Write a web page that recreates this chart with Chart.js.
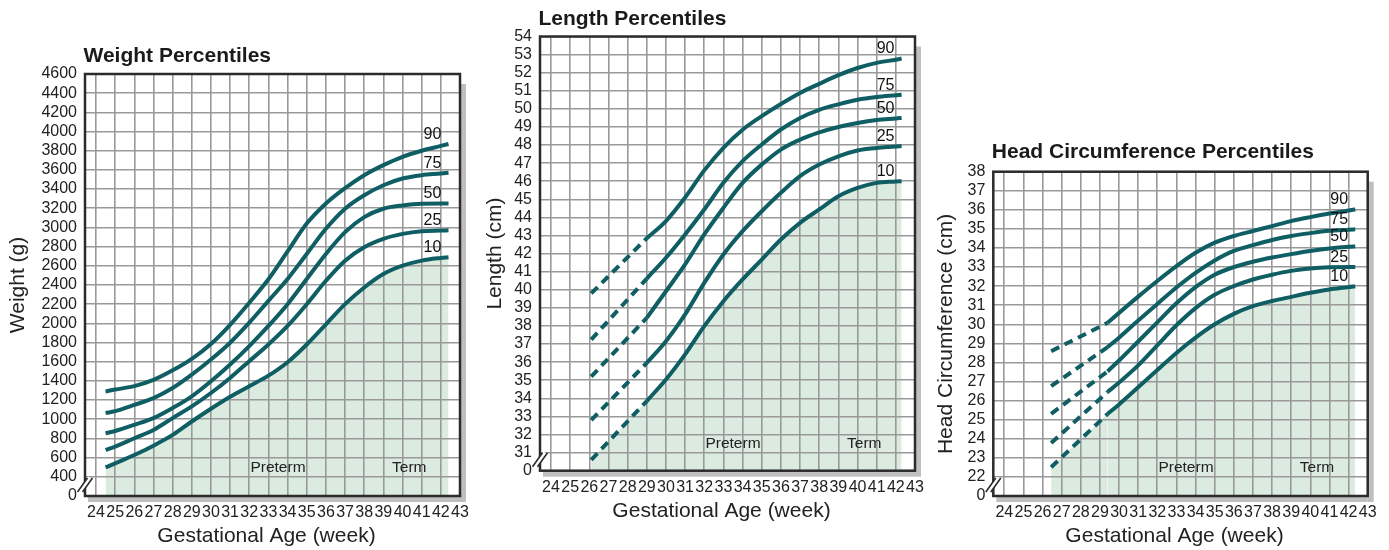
<!DOCTYPE html>
<html>
<head>
<meta charset="utf-8">
<script src="https://cdn.jsdelivr.net/npm/chart.js@4.4.1/dist/chart.umd.min.js"></script>
<style>
  html, body { margin: 0; padding: 0; background: #fff; }
  #wrap { position: relative; width: 1389px; height: 550px; overflow: hidden; }
  canvas { position: absolute; top: 0; }
</style>
</head>
<body>
<div id="wrap">
  <canvas id="weightChart" width="485" height="550" style="left:0"></canvas>
  <canvas id="lengthChart" width="475" height="550" style="left:470px"></canvas>
  <canvas id="headChart" width="459" height="550" style="left:930px"></canvas>
</div>
<script>
// x axis (gestational age, weeks)
const weekTicks = [24, 25, 26, 27, 28, 29, 30, 31, 32, 33, 34, 35, 36, 37, 38, 39, 40, 41, 42, 43];
const percentiles = ['90', '75', '50', '25', '10'];
const zoneLabels = ['Preterm', 'Term'];
const zoneWeeks = [33.5, 40.35];

// Weight (g) - bottom tick "0" marks the axis break
const weightTicks = [0, 400, 600, 800, 1000, 1200, 1400, 1600, 1800, 2000, 2200, 2400, 2600, 2800, 3000, 3200, 3400, 3600, 3800, 4000, 4200, 4400, 4600];
const weightWeeks = [24.5, 25, 26, 27, 28, 29, 30, 31, 32, 33, 34, 35, 36, 37, 38, 39, 40, 41, 42, 42.4];
const weight90 = [1290, 1310, 1345, 1410, 1510, 1630, 1785, 1985, 2215, 2460, 2750, 3040, 3250, 3410, 3545, 3650, 3737, 3800, 3850, 3870];
const weight75 = [1064, 1085, 1150, 1221, 1326, 1466, 1623, 1798, 2007, 2235, 2462, 2724, 2986, 3195, 3335, 3440, 3510, 3545, 3562, 3570];
const weight50 = [854, 878, 942, 1012, 1117, 1239, 1396, 1571, 1763, 1973, 2200, 2462, 2724, 2951, 3108, 3195, 3230, 3248, 3250, 3250];
const weight25 = [680, 715, 802, 889, 1012, 1134, 1274, 1431, 1606, 1780, 1973, 2200, 2444, 2654, 2794, 2881, 2933, 2961, 2968, 2970];
const weight10 = [498, 540, 627, 725, 837, 977, 1110, 1235, 1345, 1455, 1595, 1780, 1990, 2200, 2374, 2514, 2601, 2654, 2682, 2690];

// Length (cm) - dashed up to week 29
const lengthTicks = [0, 31, 32, 33, 34, 35, 36, 37, 38, 39, 40, 41, 42, 43, 44, 45, 46, 47, 48, 49, 50, 51, 52, 53, 54];
const lengthWeeks = [26.1, 29, 30, 31, 32, 33, 34, 35, 36, 37, 38, 39, 40, 41, 42, 42.3];
const length90 = [39.8, 42.85, 43.8, 45.1, 46.6, 47.85, 48.85, 49.6, 50.27, 50.88, 51.38, 51.86, 52.26, 52.54, 52.72, 52.78];
const length75 = [37.25, 40.62, 41.77, 43.06, 44.44, 45.91, 47.11, 48.03, 48.86, 49.5, 49.95, 50.25, 50.5, 50.65, 50.75, 50.78];
const length50 = [35.2, 38.45, 39.92, 41.4, 43.06, 44.53, 45.91, 46.92, 47.75, 48.3, 48.7, 49.0, 49.22, 49.38, 49.47, 49.5];
const length25 = [32.8, 35.96, 37.16, 38.64, 40.38, 41.95, 43.24, 44.34, 45.36, 46.28, 46.92, 47.38, 47.7, 47.84, 47.92, 47.95];
const length10 = [30.6, 33.85, 35.04, 36.43, 37.99, 39.37, 40.57, 41.67, 42.78, 43.7, 44.44, 45.17, 45.63, 45.91, 45.98, 46.0];

// Head circumference (cm) - dashed up to week 29.4
const headTicks = [0, 22, 23, 24, 25, 26, 27, 28, 29, 30, 31, 32, 33, 34, 35, 36, 37, 38];
const headWeeks = [26.45, 29.4, 30, 31, 32, 33, 34, 35, 36, 37, 38, 39, 40, 41, 42, 42.35];
const head90 = [28.59, 30.08, 30.6, 31.45, 32.27, 33.05, 33.75, 34.28, 34.63, 34.89, 35.15, 35.41, 35.62, 35.81, 35.97, 36.02];
const head75 = [26.76, 28.8, 29.3, 30.2, 31.07, 31.93, 32.7, 33.35, 33.85, 34.15, 34.42, 34.63, 34.78, 34.9, 34.96, 34.98];
const head50 = [25.31, 27.53, 28.1, 29.1, 30.1, 31.1, 31.95, 32.6, 33.0, 33.28, 33.5, 33.68, 33.84, 33.97, 34.06, 34.08];
const head25 = [23.78, 26.45, 26.95, 27.85, 28.9, 29.95, 30.85, 31.55, 32.0, 32.35, 32.6, 32.8, 32.93, 32.99, 33.0, 33.0];
const head10 = [22.51, 25.3, 25.8, 26.7, 27.6, 28.5, 29.3, 30.0, 30.55, 30.95, 31.22, 31.44, 31.65, 31.83, 31.95, 32.0];

const LINE = '#0f5e64';
const FILL = '#dcebdf';
const GRID = '#999';
const TEXT = '#222';
const FONT = '"Liberation Sans", Arial, Helvetica, sans-serif';
const X_TITLE = 'Gestational Age (week)';

Chart.defaults.font.family = FONT;
Chart.defaults.color = TEXT;

// frame, shadow, axis break, titles and labels
const decor = {
    id: 'decor',
    beforeDraw(chart) {
        const { ctx, chartArea: a } = chart;
        ctx.save();
        ctx.fillStyle = '#bfbfbf';
        ctx.fillRect(a.right, a.top + 10, 6, a.bottom - a.top - 4);
        ctx.fillRect(a.left + 3, a.bottom, a.right - a.left - 3, 6);
        ctx.restore();
    },
    afterDatasetsDraw(chart, args, o) {
        const { ctx, chartArea: a, scales } = chart;
        ctx.save();
        // frame
        ctx.strokeStyle = '#2b2b2b';
        ctx.lineWidth = 2.5;
        ctx.strokeRect(a.left, a.top, a.right - a.left, a.bottom - a.top);

        // axis break "//"
        const cy = a.bottom - 11;
        ctx.strokeStyle = '#fff';
        ctx.lineWidth = 4;
        ctx.beginPath();
        ctx.moveTo(a.left - 5, cy + 7);
        ctx.lineTo(a.left + 5, cy - 7);
        ctx.stroke();
        ctx.strokeStyle = '#2b2b2b';
        ctx.lineWidth = 1.6;
        [-2.5, 2.5].forEach(d => {
            ctx.beginPath();
            ctx.moveTo(a.left - 5 + d, cy + 7);
            ctx.lineTo(a.left + 5 + d, cy - 7);
            ctx.stroke();
        });

        // percentile labels at the end of each curve
        ctx.fillStyle = '#111';
        ctx.font = '16px ' + FONT;
        ctx.textAlign = 'center';
        ctx.textBaseline = 'middle';
        chart.data.datasets.forEach((ds, i) => {
            if (!ds.pLabel) return;
            const pts = chart.getDatasetMeta(i).data;
            const last = pts[pts.length - 1];
            ctx.fillText(ds.pLabel, last.x - 16, last.y - o.labelGap);
        });

        // preterm / term
        ctx.font = '15.5px ' + FONT;
        ctx.fillStyle = TEXT;
        const zy = scales.y.getPixelForValue(o.zoneY);
        zoneLabels.forEach((t, i) => {
            ctx.fillText(t, scales.x.getPixelForValue(zoneWeeks[i]), zy);
        });

        // x axis title (sits a little left of the plot centre)
        ctx.font = '21px ' + FONT;
        ctx.fillText(X_TITLE, (a.left + a.right) / 2 - 6, a.bottom + 40.5);

        // panel title
        ctx.font = 'bold 21px ' + FONT;
        ctx.fillStyle = '#1a1a1a';
        ctx.textAlign = 'left';
        ctx.textBaseline = 'alphabetic';
        ctx.fillText(o.title, a.left - 1.5, a.top - o.titleGap);
        ctx.restore();
    }
};

function makeChart(canvasId, p) {
    const yPositions = p.yTicks.map((_, k) => p.yMin + k * p.yStep);
    const datasets = [];
    p.series.forEach((values, i) => {
        const pts = p.weeks.map((w, j) => ({ x: w, y: values[j] }));
        const base = {
            borderColor: LINE,
            backgroundColor: FILL,
            borderWidth: 4,
            pointRadius: 0,
            fill: i === p.series.length - 1 ? 'start' : false
        };
        if (p.dashUntil) {
            datasets.push(Object.assign({}, base, {
                data: pts.filter(pt => pt.x <= p.dashUntil),
                borderDash: [9, 6],
                tension: 0
            }));
        }
        datasets.push(Object.assign({}, base, {
            data: p.dashUntil ? pts.filter(pt => pt.x >= p.dashUntil) : pts,
            cubicInterpolationMode: 'monotone',
            pLabel: percentiles[i]
        }));
    });

    return new Chart(document.getElementById(canvasId), {
        type: 'line',
        data: { datasets: datasets },
        plugins: [decor],
        options: {
            responsive: false,
            animation: false,
            devicePixelRatio: 1,
            layout: { padding: p.padding },
            plugins: {
                legend: { display: false },
                tooltip: { enabled: false },
                filler: { drawTime: 'beforeDraw' },
                decor: { title: p.title, titleGap: p.titleGap, labelGap: 9.5, zoneY: p.yMin + 1.5 * p.yStep }
            },
            scales: {
                x: {
                    type: 'linear',
                    min: 24 - 11 / 19.17,
                    max: 43,
                    afterBuildTicks: s => { s.ticks = weekTicks.map(v => ({ value: v })); },
                    afterFit: s => { s.height = 54; },
                    ticks: {
                        autoSkip: false,
                        maxRotation: 0,
                        padding: 7,
                        font: { size: 16 },
                        callback: v => String(v)
                    },
                    grid: { color: GRID, lineWidth: 1.6, drawTicks: false },
                    border: { display: false }
                },
                y: {
                    type: 'linear',
                    min: p.yMin,
                    max: p.yMin + (p.yTicks.length - 1) * p.yStep,
                    afterBuildTicks: s => { s.ticks = yPositions.map(v => ({ value: v })); },
                    afterFit: s => { s.width = p.yWidth; },
                    ticks: {
                        autoSkip: false,
                        padding: 8,
                        font: { size: 16 },
                        callback: (v, idx) => String(p.yTicks[idx])
                    },
                    grid: { color: GRID, lineWidth: 1.6, drawTicks: false },
                    border: { display: false },
                    title: {
                        display: true,
                        text: p.yTitle,
                        font: { size: 21 },
                        padding: { top: p.yTitlePad, bottom: 0 }
                    }
                }
            }
        }
    });
}

makeChart('weightChart', {
    title: 'Weight Percentiles', yTitle: 'Weight (g)',
    yTicks: weightTicks, yMin: 200, yStep: 200,
    weeks: weightWeeks, series: [weight90, weight75, weight50, weight25, weight10],
    dashUntil: null,
    yWidth: 85, yTitlePad: 5.4, titleGap: 12.5,
    padding: { left: 0, right: 25, top: 74, bottom: 0 }
});

makeChart('lengthChart', {
    title: 'Length Percentiles', yTitle: 'Length (cm)',
    yTicks: lengthTicks, yMin: 30, yStep: 1,
    weeks: lengthWeeks, series: [length90, length75, length50, length25, length10],
    dashUntil: 29,
    yWidth: 70, yTitlePad: 12.4, titleGap: 11.5,
    padding: { left: 0, right: 30, top: 36.5, bottom: 25.3 }
});

makeChart('headChart', {
    title: 'Head Circumference Percentiles', yTitle: 'Head Circumference (cm)',
    yTicks: headTicks, yMin: 21, yStep: 1,
    weeks: headWeeks, series: [head90, head75, head50, head25, head10],
    dashUntil: 29.4,
    yWidth: 63.3, yTitlePad: 3.4, titleGap: 14,
    padding: { left: 0, right: 21.3, top: 171.7, bottom: 0 }
});
</script>
</body>
</html>
